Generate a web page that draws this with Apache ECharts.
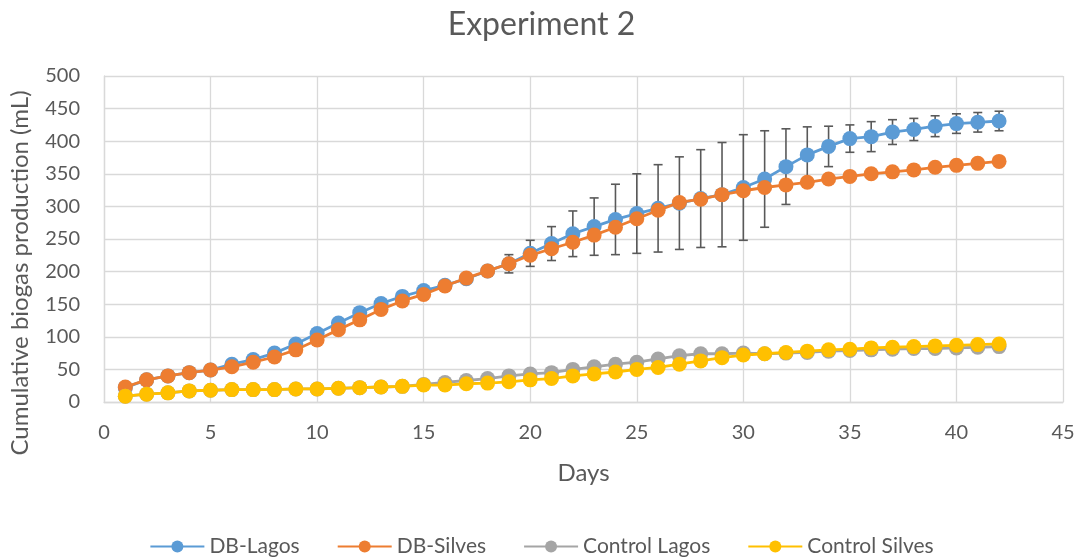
<!DOCTYPE html>
<html>
<head>
<meta charset="utf-8">
<script src="https://cdn.jsdelivr.net/npm/echarts@6/dist/echarts.min.js"></script>
<style>
  html, body { margin: 0; padding: 0; background: #ffffff; }
  #chart { width: 1083px; height: 559px; }
</style>
</head>
<body>
<div id="chart"></div>
<script>
// Days of the experiment
const days = [1,2,3,4,5,6,7,8,9,10,11,12,13,14,15,16,17,18,19,20,21,
              22,23,24,25,26,27,28,29,30,31,32,33,34,35,36,37,38,39,40,41,42];

// Cumulative biogas production (mL)
const dbLagos = [22,34,40,45,49,58,65,75,89,105,121,137,151,162,171,179,189,201,212,228,243,
                 258,269,280,289,297,305,312,318,329,342,361,379,392,404,407,414,418,423,427,429,431];
const dbSilves = [23,34,40,45,49,54,61,69,80,95,111,126,142,155,165,178,190,201,212,225,235,
                  245,256,268,281,294,306,311,318,324,329,333,337,342,346,350,353,356,360,363,366,369];
const controlLagos = [9,12,14,17,18,19,19,19,20,20,21,22,23,24,27,30,33,36,40,43,45,
                      50,54,58,61,66,71,74,74,75,74,75,76,78,79,80,81,82,82,83,84,85];
const controlSilves = [9,12,14,17,18,19,19,19,20,20,21,22,23,24,26,26,28,29,31,34,36,
                       40,43,46,50,53,58,63,68,72,74,76,78,80,81,83,84,85,86,87,88,89];

// Error bar half-widths for DB-Lagos (mL)
const dbLagosErr = [0,0,0,0,0,0,0,0,0,0,0,0,0,0,0,3,5,8,14,20,26,
                    35,44,54,61,67,71,75,80,81,74,58,43,31,21,23,19,17,16,15,15,15];

const seriesNames = ['DB-Lagos', 'DB-Silves', 'Control Lagos', 'Control Silves'];
const seriesColors = ['#5B9BD5', '#ED7D31', '#A5A5A5', '#FFC000'];
const seriesValues = [dbLagos, dbSilves, controlLagos, controlSilves];

const FONT = 'Lato, "Open Sans", sans-serif';
const TEXT = '#595959';

const pairs = vals => days.map((d, i) => [d, vals[i]]);

const errData = days.map((d, i) => [d, dbLagos[i] - dbLagosErr[i], dbLagos[i] + dbLagosErr[i]])
                    .filter((r, i) => dbLagosErr[i] > 0);

const lineSeries = seriesNames.map((name, k) => ({
  name: name,
  type: 'line',
  data: pairs(seriesValues[k]),
  symbol: 'circle',
  symbolSize: 15,
  showSymbol: true,
  lineStyle: { color: seriesColors[k], width: 2.8 },
  itemStyle: { color: seriesColors[k] },
  emphasis: { disabled: true },
  z: 3 + k,
  animation: false
}));

// Vertical whiskers with caps, drawn under the markers
const errorSeries = {
  type: 'custom',
  name: 'err',
  data: errData,
  z: 2,
  silent: true,
  animation: false,
  renderItem: function (params, api) {
    const x = api.value(0);
    const lo = api.coord([x, api.value(1)]);
    const hi = api.coord([x, api.value(2)]);
    const cap = 4.5;
    const style = { stroke: '#595959', lineWidth: 1.6 };
    return {
      type: 'group',
      children: [
        { type: 'line', shape: { x1: lo[0], y1: lo[1], x2: hi[0], y2: hi[1] }, style: style },
        { type: 'line', shape: { x1: lo[0] - cap, y1: lo[1], x2: lo[0] + cap, y2: lo[1] }, style: style },
        { type: 'line', shape: { x1: hi[0] - cap, y1: hi[1], x2: hi[0] + cap, y2: hi[1] }, style: style }
      ]
    };
  }
};

const chart = echarts.init(document.getElementById('chart'), null, { renderer: 'canvas' });
chart.setOption({
  backgroundColor: '#ffffff',
  animation: false,
  title: {
    text: 'Experiment 2',
    left: 'center',
    top: 4,
    textStyle: { fontFamily: FONT, fontSize: 32, fontWeight: 'normal', color: TEXT }
  },
  legend: {
    data: seriesNames,
    top: 531,
    left: 'center',
    itemWidth: 54,
    itemHeight: 15,
    itemGap: 37,
    textStyle: { fontFamily: FONT, fontSize: 21, color: TEXT }
  },
  grid: { left: 104, right: 20, top: 76, bottom: 157, containLabel: false },
  xAxis: {
    type: 'value',
    min: 0, max: 45, interval: 5,
    name: 'Days',
    nameLocation: 'middle',
    nameGap: 59,
    nameTextStyle: { fontFamily: FONT, fontSize: 24, color: TEXT },
    axisLine: { show: true, lineStyle: { color: '#D9D9D9', width: 1.3 } },
    axisTick: { show: false },
    axisLabel: { fontFamily: FONT, fontSize: 20, color: TEXT, margin: 21 },
    splitLine: { show: true, lineStyle: { color: '#D9D9D9', width: 1.3 } }
  },
  yAxis: {
    type: 'value',
    min: 0, max: 500, interval: 50,
    name: 'Cumulative biogas production (mL)',
    nameLocation: 'middle',
    nameGap: 72,
    nameTextStyle: { fontFamily: FONT, fontSize: 24, color: TEXT, padding: [0, 68, 0, 0] },
    axisLine: { show: true, lineStyle: { color: '#D9D9D9', width: 1.3 } },
    axisTick: { show: false },
    axisLabel: { fontFamily: FONT, fontSize: 20, color: TEXT, margin: 24 },
    splitLine: { show: true, lineStyle: { color: '#D9D9D9', width: 1.3 } }
  },
  series: [errorSeries].concat(lineSeries)
});
</script>
</body>
</html>
